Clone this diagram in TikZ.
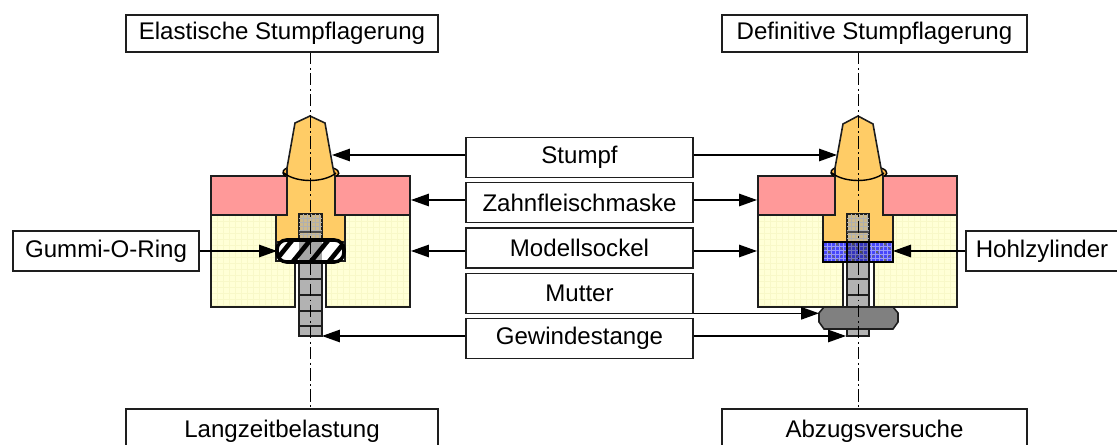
\documentclass[tikz,border=0pt]{standalone}
\usepackage{fontspec}
\setmainfont{Liberation Sans}
\usetikzlibrary{arrows.meta}
\definecolor{zahn}{RGB}{255,204,102}
\definecolor{maske}{RGB}{255,153,153}
\definecolor{sockel}{RGB}{255,255,214}
\definecolor{rille}{RGB}{248,248,200}
\definecolor{stange}{RGB}{178,178,178}
\definecolor{kopf}{RGB}{205,185,140}
\definecolor{hohl}{RGB}{70,70,250}
\definecolor{mutterfill}{RGB}{128,128,128}
\definecolor{kante}{RGB}{30,30,30}
\tikzset{
	labelbox/.style={draw=kante,line width=0.8pt,fill=white,inner sep=0pt,font=\fontsize{13.7}{16}\selectfont},
	titlebox/.style={labelbox,minimum height=0.74cm},
	midbox/.style={labelbox,minimum width=4.54cm,minimum height=0.8cm},
	zeiger/.style={line width=0.8pt,-{Triangle[length=0.36cm,width=0.25cm]}},
	achse/.style={thin,dash pattern=on 7pt off 2pt on 1pt off 2pt},
	teil/.style={draw=kante,line width=0.9pt},
}
\begin{document}
\begin{tikzpicture}[x=0.02cm,y=-0.02cm]
	\useasboundingbox (0,0) rectangle (1117,445);

	%left model: base
	\fill[sockel] (211,215) rectangle (295,307) (326,215) rectangle (410,307);
	\begin{scope}
		\clip (211,215) rectangle (295,307) (326,215) rectangle (410,307);
		\foreach \i in {0,6,...,200} {
			\draw[rille,very thin] (211+\i,215) -- (211+\i,307);
		}
		\foreach \i in {0,6,...,90} {
			\draw[rille,very thin] (211,215+\i) -- (410,215+\i);
		}
	\end{scope}
	\draw[teil] (276,215) -- (211,215) -- (211,307) -- (295,307) -- (295,262);
	\draw[teil] (345,215) -- (410,215) -- (410,307) -- (326,307) -- (326,262);
	%left model: mask
	\draw[teil,fill=maske] (211,176) rectangle (287,215);
	\draw[teil,fill=maske] (335,176) rectangle (410,215);
	%left model: stump
	\draw[draw=black,line width=0.8pt,fill=zahn!70!orange] (287,168) .. controls (280,171) and (283,176) .. (288,177) .. controls (300,182) and (322,182) .. (334,177) .. controls (339,176) and (342,171) .. (333,168) -- cycle;
	\draw[teil,fill=zahn] (310,116) -- (325,123) -- (333,168) -- (335,176) -- (335,215) -- (345,215) -- (345,242) -- (276,242) -- (276,215) -- (287,215) -- (287,176) -- (287,168) -- (295,123) -- cycle;
	\draw[draw=none,fill=zahn] (288,168) .. controls (300,178) and (322,178) .. (332,168) -- cycle;
	\draw[black,line width=0.8pt] (284,173) .. controls (296,183) and (324,183) .. (336,173);
	%left model: threaded rod
	\draw[teil,fill=kopf] (299,214) rectangle (322,242);
	\foreach \y in {218,222,...,240} {
		\draw[kante!35,very thin] (299,\y) -- (322,\y);
	}
	\foreach \x in {303,307,...,320} {
		\draw[kante!35,very thin] (\x,214) -- (\x,242);
	}
	\draw[kante!80,line width=0.7pt] (299,232) -- (322,232);
	\draw[teil,fill=stange] (299,262) rectangle (322,336);
	\foreach \y in {279,295,311,326} {
		\draw[kante,line width=0.8pt] (299,\y) -- (322,\y);
	}
	%left model: O-ring
	\draw[teil,fill=white] (276,242) rectangle (345,261);
	\begin{scope}
		\clip[rounded corners=5.5pt] (277,240) rectangle (344,262);
		\fill[white] (277,240) rectangle (344,262);
		\foreach \x in {270,288,...,342} {
			\fill[black] (\x,264) -- (\x+6,264) -- (\x+27,238) -- (\x+21,238) -- cycle;
		}
		\fill[black,opacity=0.35] (299,240) rectangle (322,262);
	\end{scope}
	\draw[black,line width=2pt,rounded corners=5.5pt] (277,240) rectangle (344,262);

	%right model: base
	\fill[sockel] (758,215) rectangle (843,307) (874,215) rectangle (957,307);
	\begin{scope}
		\clip (758,215) rectangle (843,307) (874,215) rectangle (957,307);
		\foreach \i in {0,6,...,200} {
			\draw[rille,very thin] (758+\i,215) -- (758+\i,307);
		}
		\foreach \i in {0,6,...,90} {
			\draw[rille,very thin] (758,215+\i) -- (957,215+\i);
		}
	\end{scope}
	\draw[teil] (823,215) -- (758,215) -- (758,307) -- (843,307) -- (843,262);
	\draw[teil] (893,215) -- (957,215) -- (957,307) -- (874,307) -- (874,262);
	%right model: mask
	\draw[teil,fill=maske] (758,176) rectangle (835,215);
	\draw[teil,fill=maske] (883,176) rectangle (957,215);
	%right model: stump
	\draw[draw=black,line width=0.8pt,fill=zahn!70!orange] (835,168) .. controls (828,171) and (831,176) .. (836,177) .. controls (848,182) and (870,182) .. (882,177) .. controls (887,176) and (890,171) .. (881,168) -- cycle;
	\draw[teil,fill=zahn] (858,116) -- (873,124) -- (881,168) -- (883,176) -- (883,215) -- (893,215) -- (893,242) -- (823,242) -- (823,215) -- (835,215) -- (835,176) -- (835,168) -- (843,124) -- cycle;
	\draw[draw=none,fill=zahn] (836,168) .. controls (848,178) and (870,178) .. (880,168) -- cycle;
	\draw[black,line width=0.8pt] (832,173) .. controls (844,183) and (872,183) .. (884,173);
	%right model: threaded rod
	\draw[teil,fill=kopf] (847,214) rectangle (869,242);
	\foreach \y in {218,222,...,240} {
		\draw[kante!35,very thin] (847,\y) -- (869,\y);
	}
	\foreach \x in {851,855,...,868} {
		\draw[kante!35,very thin] (\x,214) -- (\x,242);
	}
	\draw[kante!80,line width=0.7pt] (847,232) -- (869,232);
	\draw[teil,fill=stange] (847,262) rectangle (869,336);
	\foreach \y in {279,295} {
		\draw[kante,line width=0.8pt] (847,\y) -- (869,\y);
	}
	%right model: hollow cylinder
	\fill[hohl] (823,242) rectangle (893,262);
	\begin{scope}
		\clip (823,242) rectangle (893,262);
		\foreach \i in {-20,-4,...,100} {
			\draw[black!60,line width=0.5pt] (823+\i,242) -- (843+\i,262);
			\draw[black!60,line width=0.5pt] (843+\i,242) -- (823+\i,262);
		}
		\foreach \i in {0,4,...,70} {
			\draw[white!45!hohl,very thin] (823+\i,242) -- (823+\i,262);
		}
		\foreach \i in {0,4,...,20} {
			\draw[white!45!hohl,very thin] (823,242+\i) -- (893,242+\i);
		}
		\fill[black,opacity=0.25] (847,242) rectangle (869,262);
	\end{scope}
	\draw[black,line width=0.9pt] (823,242) rectangle (893,262);
	\draw[black,line width=0.9pt] (847,242) -- (847,262) (869,242) -- (869,262);
	%right model: nut
	\draw[teil,fill=mutterfill] (824,307) -- (893,307) -- (898,313) -- (898,322) -- (893,329) -- (824,329) -- (819,322) -- (819,313) -- cycle;

	%center lines
	\draw[achse] (310,52) -- (310,409);
	\draw[achse] (858,52) -- (858,409);

	%titles
	\node[titlebox,minimum width=6.24cm] (elastisch) at (282,33.5) {Elastische Stumpflagerung};
	\node[titlebox,minimum width=6.1cm] (definitiv) at (874.5,33.5) {Definitive Stumpflagerung};
	\node[titlebox,minimum width=6.24cm,minimum height=0.9cm] (langzeit) at (282,431.5) {Langzeitbelastung};
	\node[titlebox,minimum width=6.1cm,minimum height=0.9cm] (abzug) at (874.5,431.5) {Abzugsversuche};

	%labels
	\node[midbox] (stumpf) at (579.5,157.3) {Stumpf};
	\node[midbox] (zahnfleisch) at (579.5,202.7) {Zahnfleischmaske};
	\node[midbox] (modell) at (579.5,248) {Modellsockel};
	\node[midbox] (mutter) at (579.5,293.3) {Mutter};
	\node[midbox] (gewinde) at (579.5,338.7) {Gewindestange};
	\node[labelbox,minimum width=3.72cm,minimum height=0.8cm] (gummi) at (106,251) {Gummi-O-Ring};
	\node[labelbox,minimum width=3.04cm,minimum height=0.8cm] (hohlzyl) at (1042,251) {Hohlzylinder};

	%arrows
	\coordinate (stumpfL) at (332,155);
	\coordinate (stumpfR) at (837,155);
	\coordinate (maskeL) at (411,200);
	\coordinate (maskeR) at (757,200);
	\coordinate (sockelL) at (411,251);
	\coordinate (sockelR) at (757,251);
	\coordinate (stangeL) at (322,336);
	\coordinate (stangeR) at (846,336);
	\coordinate (ringEnd) at (277,251);
	\coordinate (hohlEnd) at (893,251);
	\coordinate (mutterEnd) at (819,313.3);
	\draw[zeiger] (stumpf.west |- stumpfL) -- (stumpfL);
	\draw[zeiger] (stumpf.east |- stumpfR) -- (stumpfR);
	\draw[zeiger] (zahnfleisch.west |- maskeL) -- (maskeL);
	\draw[zeiger] (zahnfleisch.east |- maskeR) -- (maskeR);
	\draw[zeiger] (modell.west |- sockelL) -- (sockelL);
	\draw[zeiger] (modell.east |- sockelR) -- (sockelR);
	\draw[zeiger] (gewinde.west |- stangeL) -- (stangeL);
	\draw[zeiger] (gewinde.east |- stangeR) -- (stangeR);
	\draw[zeiger] (gummi.east) -- (ringEnd);
	\draw[zeiger] (hohlzyl.west) -- (hohlEnd);
	\draw[zeiger] (mutter.east |- mutterEnd) -- (mutterEnd);
\end{tikzpicture}
\end{document}
